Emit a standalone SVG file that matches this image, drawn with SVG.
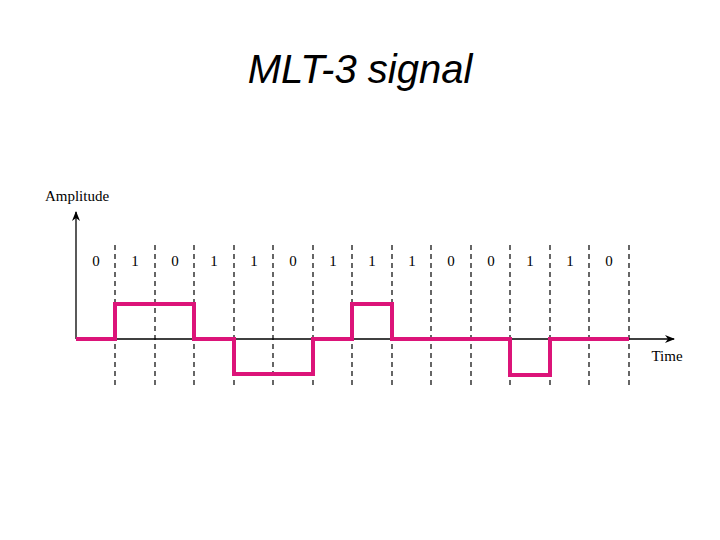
<svg xmlns="http://www.w3.org/2000/svg" width="720" height="540" viewBox="0 0 720 540">
<style>
.t{font-family:"Liberation Serif",serif;font-size:15px;fill:#000;text-anchor:middle}
.d{stroke:#000;stroke-width:1.2;stroke-dasharray:5,4}
</style>
<defs><marker id="a" viewBox="0 0 10 10" refX="9" refY="5" markerWidth="10" markerHeight="10" markerUnits="userSpaceOnUse" orient="auto"><path d="M0,1 L10,5 L0,9 L3,5Z" fill="#000"/></marker></defs>
<rect width="720" height="540" fill="#fff"/>
<text x="360" y="83" font-family="Liberation Sans,Arial,sans-serif" font-size="40" font-style="italic" text-anchor="middle">MLT-3 signal</text>
<g id="axes" stroke="#000" stroke-width="1.3">
<line x1="76" y1="339" x2="76" y2="212" marker-end="url(#a)"/>
<line x1="76" y1="339" x2="674" y2="339" marker-end="url(#a)"/>
</g>
<text class="t" x="77" y="201">Amplitude</text>
<text class="t" x="667" y="361">Time</text>
<g id="grid">
<line class="d" x1="115" y1="245" x2="115" y2="386"/><line class="d" x1="155" y1="245" x2="155" y2="386"/><line class="d" x1="194" y1="245" x2="194" y2="386"/><line class="d" x1="234" y1="245" x2="234" y2="386"/><line class="d" x1="273" y1="245" x2="273" y2="386"/><line class="d" x1="313" y1="245" x2="313" y2="386"/><line class="d" x1="352" y1="245" x2="352" y2="386"/><line class="d" x1="392" y1="245" x2="392" y2="386"/><line class="d" x1="431" y1="245" x2="431" y2="386"/><line class="d" x1="471" y1="245" x2="471" y2="386"/><line class="d" x1="510" y1="245" x2="510" y2="386"/><line class="d" x1="550" y1="245" x2="550" y2="386"/><line class="d" x1="589" y1="245" x2="589" y2="386"/><line class="d" x1="629" y1="245" x2="629" y2="386"/>
</g>
<g id="bits">
<text class="t" x="96" y="266">0</text><text class="t" x="135" y="266">1</text><text class="t" x="175" y="266">0</text><text class="t" x="214" y="266">1</text><text class="t" x="254" y="266">1</text><text class="t" x="293" y="266">0</text><text class="t" x="333" y="266">1</text><text class="t" x="372" y="266">1</text><text class="t" x="412" y="266">1</text><text class="t" x="451" y="266">0</text><text class="t" x="491" y="266">0</text><text class="t" x="530" y="266">1</text><text class="t" x="570" y="266">1</text><text class="t" x="609" y="266">0</text>
</g>
<g id="signal"><path d="M76,339 H115 V304 H194 V339 H234 V374 H313 V339 H352 V304 H392 V339 H510 V375 H550 V339 H629" fill="none" stroke="#dc1479" stroke-width="4"/></g>
</svg>
